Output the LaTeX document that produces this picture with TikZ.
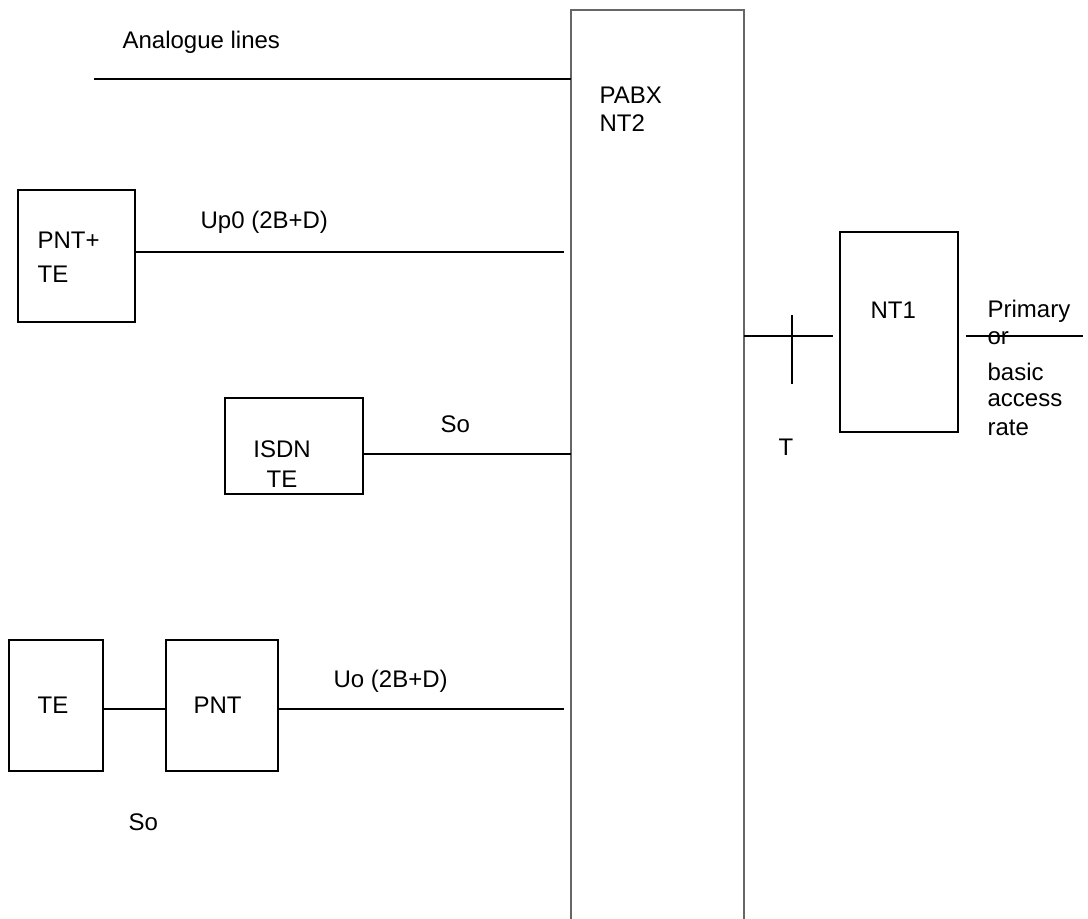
\documentclass[tikz,border=0pt]{standalone}
\usepackage{fontspec}
\setmainfont{Liberation Sans}
\usetikzlibrary{positioning}

\tikzset{
  box/.style={draw,rectangle,inner sep=0pt},
  lbl/.style={anchor=base west,inner sep=0pt,font=\fontsize{24}{29}\selectfont},
  pabx/.style={draw=black!60,line width=1.6pt}
}

\begin{document}
\begin{tikzpicture}[x=1pt,y=-1pt,line width=1.2pt]
\useasboundingbox (0,0) rectangle (1088,919);

% exchange, open at the bottom
\coordinate (pabxsw) at (571,919);
\coordinate (pabxnw) at (571,10);
\coordinate (pabxne) at (744,10);
\coordinate (pabxse) at (744,919);
\draw[pabx] (pabxsw) -- (pabxnw) -- (pabxne) -- (pabxse);
\node[lbl] (pabxt) at (599,103) {PABX};
\node[lbl] (nt2t) at (599,131) {NT2};

% analogue lines
\coordinate (ana) at (94,79);
\draw (ana) -- (ana -| pabxnw);
\node[lbl] (anat) at (122,48) {Analogue lines};

% PNT+TE on Up0
\node[box,minimum width=117pt,minimum height=132pt] (pntte) at (76.5,256) {};
\node[lbl] (pntte1) at (37,248) {PNT+};
\node[lbl] (pntte2) at (37,282) {TE};
\coordinate (upend) at (564,252);
\draw ([yshift=4pt]pntte.east) -- (upend);
\node[lbl] (upt) at (200,228) {Up0 (2B+D)};

% ISDN TE on So
\node[box,minimum width=138pt,minimum height=96pt] (isdn) at (294,446) {};
\node[lbl,anchor=base] (isdn1) at (282,457) {ISDN};
\node[lbl,anchor=base] (isdn2) at (282,487) {TE};
\coordinate (son) at ([yshift=-8pt]isdn.east);
\draw (son) -- (son -| pabxnw);
\node[lbl] (sot) at (440,432) {So};

% TE -- PNT on Uo
\node[box,minimum width=94pt,minimum height=131pt] (te) at (56,705.5) {};
\node[box,minimum width=112pt,minimum height=131pt] (pnt) at (222,705.5) {};
\node[lbl] (tet) at (37,713) {TE};
\node[lbl] (pntt) at (193,713) {PNT};
\draw ([yshift=-3.5pt]te.east) -- ([yshift=-3.5pt]pnt.west);
\coordinate (uoend) at (564,709);
\draw ([yshift=-3.5pt]pnt.east) -- (uoend);
\node[lbl] (uot) at (333,687) {Uo (2B+D)};
\node[lbl] (sobt) at (128,830) {So};

% NT1 and T reference point
\node[box,minimum width=118pt,minimum height=200pt] (nt1) at (899,332) {};
\node[lbl] (nt1t) at (870,318) {NT1};
\coordinate (tin) at ([xshift=-6pt,yshift=-4pt]nt1.west);
\draw (tin -| pabxne) -- (tin);
\coordinate (tick) at (792,336);
\draw ([yshift=21pt]tick) -- ([yshift=-48pt]tick);
\node[lbl] (tt) at (778,455) {T};

% access side
\node[lbl] (acc1) at (987,317) {Primary};
\node[lbl] (acc2) at (987,344) {or};
\node[lbl] (acc3) at (987,380) {basic};
\node[lbl] (acc4) at (987,406) {access};
\node[lbl] (acc5) at (987,435) {rate};
\coordinate (tout) at ([xshift=7pt,yshift=-4pt]nt1.east);
\draw (tout) -- ++(117,0);
\end{tikzpicture}
\end{document}
